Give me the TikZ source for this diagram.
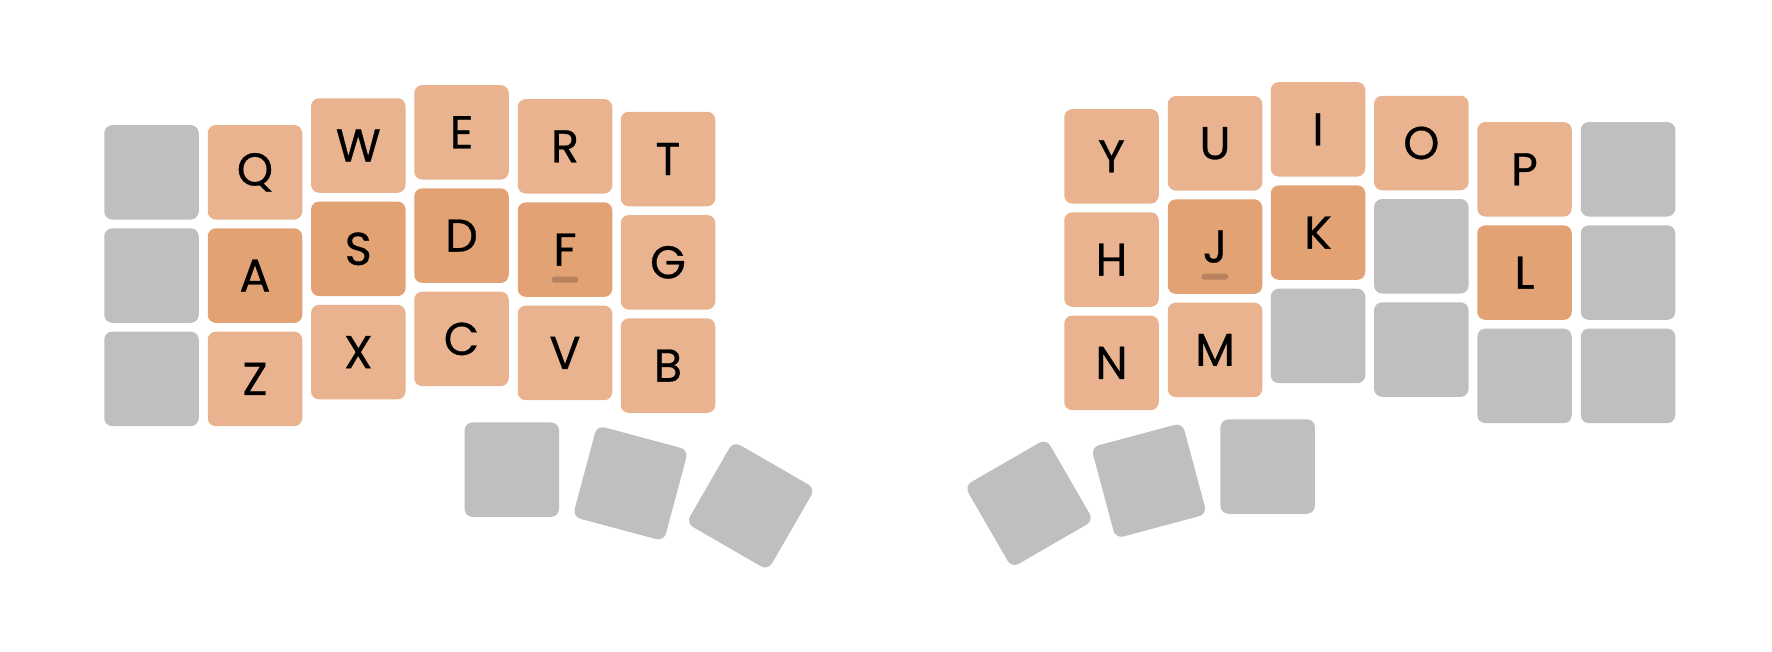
\documentclass[tikz,border=0pt]{standalone}
\usepackage{fontspec}
\setmainfont{Poppins}
\newfontfamily\keyfont{Poppins}[FakeBold=0.6]
\definecolor{keygray}{RGB}{191,191,191}
\definecolor{keylight}{RGB}{232,179,142}
\definecolor{keydark}{RGB}{226,162,116}
\definecolor{bumpcol}{RGB}{184,130,95}
\tikzset{
  keybase/.style={inner sep=0pt, minimum width=94.5pt, minimum height=94.5pt, rounded corners=8pt, font=\keyfont\fontsize{46}{50}\selectfont},
  graykey/.style={keybase, fill=keygray},
  lightkey/.style={keybase, fill=keylight},
  darkkey/.style={keybase, fill=keydark},
  bumpbar/.style={inner sep=0pt, minimum width=27pt, minimum height=6pt, rounded corners=3pt, fill=bumpcol}
}
\begin{document}
\begin{tikzpicture}[x=1pt,y=-1pt]
\useasboundingbox (0,0) rectangle (1772,651);
% left half
\node[graykey] (l00) at (151.5,172.3) {};
\node[graykey] (l01) at (151.5,275.6) {};
\node[graykey] (l02) at (151.5,378.9) {};
\node[lightkey] (kQ) at (255,172.3) {Q};
\node[darkkey] (kA) at (255,275.6) {A};
\node[lightkey] (kZ) at (255,378.9) {Z};
\node[lightkey] (kW) at (358.3,145.5) {W};
\node[darkkey] (kS) at (358.3,248.8) {S};
\node[lightkey] (kX) at (358.3,352.1) {X};
\node[lightkey] (kE) at (461.5,132.3) {E};
\node[darkkey] (kD) at (461.5,235.6) {D};
\node[lightkey] (kC) at (461.5,338.9) {C};
\node[lightkey] (kR) at (565,146.3) {R};
\node[darkkey] (kF) at (565,249.6) {F};
\node[lightkey] (kV) at (565,352.9) {V};
\node[lightkey] (kT) at (668,159) {T};
\node[lightkey] (kG) at (668,262.3) {G};
\node[lightkey] (kB) at (668,365.6) {B};
\node[bumpbar] (bF) at (565,279.7) {};
% left thumbs
\node[graykey] (lt1) at (511.8,469.7) {};
\node[graykey, rotate=-15] (lt2) at (630.5,483.3) {};
\node[graykey, rotate=-30] (lt3) at (750.7,505.8) {};
% right half
\node[lightkey] (kY) at (1111.5,156.3) {Y};
\node[lightkey] (kH) at (1111.5,259.6) {H};
\node[lightkey] (kN) at (1111.5,362.9) {N};
\node[lightkey] (kU) at (1215,143.3) {U};
\node[darkkey] (kJ) at (1215,246.6) {J};
\node[lightkey] (kM) at (1215,349.9) {M};
\node[lightkey] (kI) at (1318,129.3) {I};
\node[darkkey] (kK) at (1318,232.6) {K};
\node[graykey] (r22) at (1318,335.9) {};
\node[lightkey] (kO) at (1421.3,143) {O};
\node[graykey] (r31) at (1421.3,246.3) {};
\node[graykey] (r32) at (1421.3,349.6) {};
\node[lightkey] (kP) at (1524.5,169.3) {P};
\node[darkkey] (kL) at (1524.5,272.6) {L};
\node[graykey] (r42) at (1524.5,375.9) {};
\node[graykey] (r50) at (1628,169.3) {};
\node[graykey] (r51) at (1628,272.6) {};
\node[graykey] (r52) at (1628,375.9) {};
\node[bumpbar] (bJ) at (1215,276.7) {};
% right thumbs
\node[graykey, rotate=30] (rt1) at (1029,503.3) {};
\node[graykey, rotate=15] (rt2) at (1149,480.7) {};
\node[graykey] (rt3) at (1267.7,466.5) {};
\end{tikzpicture}
\end{document}
